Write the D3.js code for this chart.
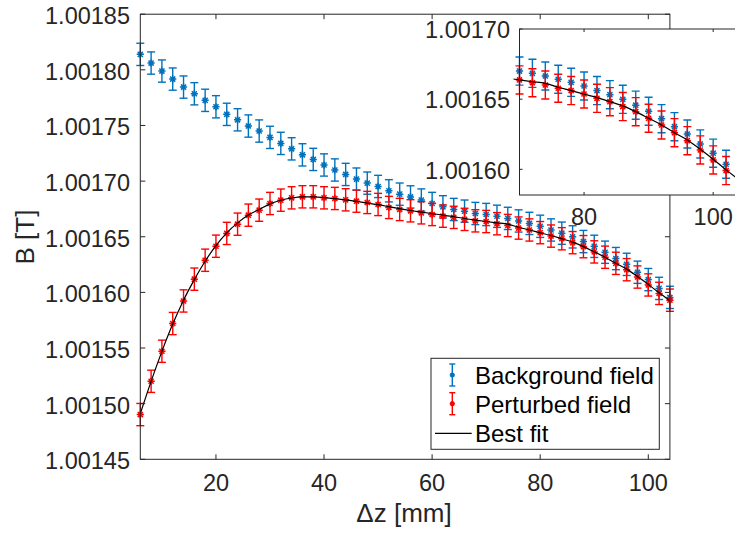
<!DOCTYPE html>
<html>
<head>
<meta charset="utf-8">
<script src="https://cdn.jsdelivr.net/npm/d3@7"></script>
<style>
  html, body { margin: 0; padding: 0; background: #fff; }
  svg { display: block; }
  text { font-family: "Liberation Sans", Arial, Helvetica, sans-serif; fill: #262626; }
</style>
</head>
<body>
<svg id="chart" width="735" height="533"></svg>
<script>
// ---------------- data ----------------
const dz = [6, 8, 10, 12, 14, 16, 18, 20, 22, 24, 26, 28, 30, 32, 34, 36, 38, 40, 42, 44,
            46, 48, 50, 52, 54, 56, 58, 60, 62, 64, 66, 68, 70, 72, 74, 76, 78, 80, 82, 84,
            86, 88, 90, 92, 94, 96, 98, 100, 102, 104];

const backgroundField = [
  1.0018139, 1.0018061, 1.0017989, 1.0017917, 1.0017845, 1.0017785, 1.0017726, 1.0017668, 1.0017600, 1.0017551,
  1.0017495, 1.0017450, 1.0017393, 1.0017339, 1.0017290, 1.0017236, 1.0017195, 1.0017145, 1.0017100, 1.0017060,
  1.0017018, 1.0016982, 1.0016952, 1.0016913, 1.0016883, 1.0016858, 1.0016830, 1.0016799, 1.0016769, 1.0016745,
  1.0016730, 1.0016709, 1.0016700, 1.0016684, 1.0016665, 1.0016642, 1.0016620, 1.0016594, 1.0016561, 1.0016532,
  1.0016499, 1.0016457, 1.0016414, 1.0016361, 1.0016304, 1.0016252, 1.0016181, 1.0016115, 1.0016036, 1.0015955];

const perturbedField = [
  1.0014902, 1.0015201, 1.0015471, 1.0015720, 1.0015923, 1.0016119, 1.0016289, 1.0016415, 1.0016530, 1.0016613,
  1.0016694, 1.0016739, 1.0016799, 1.0016829, 1.0016850, 1.0016859, 1.0016859, 1.0016850, 1.0016844, 1.0016832,
  1.0016820, 1.0016808, 1.0016790, 1.0016763, 1.0016745, 1.0016733, 1.0016715, 1.0016700, 1.0016685, 1.0016674,
  1.0016656, 1.0016643, 1.0016637, 1.0016617, 1.0016601, 1.0016578, 1.0016561, 1.0016537, 1.0016506, 1.0016482,
  1.0016447, 1.0016411, 1.0016364, 1.0016316, 1.0016261, 1.0016204, 1.0016138, 1.0016067, 1.0015991, 1.0015930];

const bestFit = [
  1.0014910, 1.0015200, 1.0015470, 1.0015715, 1.0015930, 1.0016115, 1.0016280, 1.0016420, 1.0016535, 1.0016625,
  1.0016695, 1.0016745, 1.0016795, 1.0016828, 1.0016848, 1.0016858, 1.0016858, 1.0016852, 1.0016843, 1.0016832,
  1.0016818, 1.0016803, 1.0016788, 1.0016770, 1.0016752, 1.0016736, 1.0016722, 1.0016708, 1.0016695, 1.0016680,
  1.0016664, 1.0016650, 1.0016637, 1.0016625, 1.0016613, 1.0016585, 1.0016561, 1.0016535, 1.0016511, 1.0016482,
  1.0016452, 1.0016411, 1.0016364, 1.0016316, 1.0016261, 1.0016209, 1.0016143, 1.0016072, 1.0015996, 1.0015925];

const backgroundErr = 1.0e-5;   // half-length of error bars
const perturbedErr = 1.0e-5;

const mainXTicks = [20, 40, 60, 80, 100];
const mainYTicks = [1.00145, 1.00150, 1.00155, 1.00160, 1.00165, 1.00170, 1.00175, 1.00180, 1.00185];
const insetXTicks = [80, 100];
const insetYTicks = [1.00160, 1.00165, 1.00170];

const seriesNames = ["Background field", "Perturbed field", "Best fit"];
const colors = { bg: "#0072BD", pert: "#FF0000", fit: "#000000" };

// ---------------- drawing ----------------
const svg = d3.select("#chart");
const axisColor = "#262626";

function star(r) {
  const d = r * 0.7071;
  return `M${-r},0L${r},0M0,${-r}L0,${r}M${-d},${-d}L${d},${d}M${-d},${d}L${d},${-d}`;
}

function drawSeries(g, x, y, xs, ys, err, color, capHalf, markR) {
  const data = xs.map((v, i) => ({ x: v, y: ys[i] }));
  const grp = g.append("g");
  const e = grp.selectAll("g.eb").data(data).join("g").attr("class", "eb");
  e.append("line")
    .attr("x1", d => x(d.x)).attr("x2", d => x(d.x))
    .attr("y1", d => y(d.y - err)).attr("y2", d => y(d.y + err))
    .attr("stroke", color).attr("stroke-width", 1.4);
  e.append("line")
    .attr("x1", d => x(d.x) - capHalf).attr("x2", d => x(d.x) + capHalf)
    .attr("y1", d => y(d.y + err)).attr("y2", d => y(d.y + err))
    .attr("stroke", color).attr("stroke-width", 1.4);
  e.append("line")
    .attr("x1", d => x(d.x) - capHalf).attr("x2", d => x(d.x) + capHalf)
    .attr("y1", d => y(d.y - err)).attr("y2", d => y(d.y - err))
    .attr("stroke", color).attr("stroke-width", 1.4);
  e.append("path")
    .attr("d", star(markR))
    .attr("transform", d => `translate(${x(d.x)},${y(d.y)})`)
    .attr("stroke", color).attr("stroke-width", 1.5).attr("fill", "none");
}

function drawFit(g, x, y, xs, ys) {
  const line = d3.line().x(d => x(d[0])).y(d => y(d[1])).curve(d3.curveMonotoneX);
  g.append("path")
    .attr("d", line(xs.map((v, i) => [v, ys[i]])))
    .attr("fill", "none").attr("stroke", colors.fit).attr("stroke-width", 1.2);
}

function drawBox(g, x0, x1, y0, y1, xTicks, yTicks, x, y, tickLen) {
  const box = g.append("g").attr("stroke", axisColor).attr("stroke-width", 1).attr("fill", "none");
  box.append("rect").attr("x", x0).attr("y", y0).attr("width", x1 - x0).attr("height", y1 - y0);
  xTicks.forEach(t => {
    box.append("line").attr("x1", x(t)).attr("x2", x(t)).attr("y1", y1).attr("y2", y1 - tickLen);
    box.append("line").attr("x1", x(t)).attr("x2", x(t)).attr("y1", y0).attr("y2", y0 + tickLen);
  });
  yTicks.forEach(t => {
    box.append("line").attr("x1", x0).attr("x2", x0 + tickLen).attr("y1", y(t)).attr("y2", y(t));
    box.append("line").attr("x1", x1).attr("x2", x1 - tickLen).attr("y1", y(t)).attr("y2", y(t));
  });
}

// ----- main axes -----
const M = { left: 140.3, right: 669.9, top: 14.2, bottom: 459.3 };
const x = d3.scaleLinear().domain([6, 104]).range([M.left, M.right]);
const y = d3.scaleLinear().domain([1.00145, 1.00185]).range([M.bottom, M.top]);

const main = svg.append("g");
main.append("rect").attr("x", M.left).attr("y", M.top)
  .attr("width", M.right - M.left).attr("height", M.bottom - M.top).attr("fill", "#fff");

drawSeries(main, x, y, dz, backgroundField, backgroundErr, colors.bg, 4, 3.6);
drawSeries(main, x, y, dz, perturbedField, perturbedErr, colors.pert, 4, 3.6);
drawFit(main, x, y, dz, bestFit);
drawBox(main, M.left, M.right, M.top, M.bottom, mainXTicks, mainYTicks, x, y, 5);

const fmt5 = d3.format(".5f");
main.selectAll("text.xt").data(mainXTicks).join("text").attr("class", "xt")
  .attr("x", d => x(d)).attr("y", 490.5).attr("text-anchor", "middle")
  .style("font-size", "23.5px").text(d => d);
main.selectAll("text.yt").data(mainYTicks).join("text").attr("class", "yt")
  .attr("x", 130).attr("y", d => y(d) + 10).attr("text-anchor", "end")
  .style("font-size", "23.5px").text(d => fmt5(d));

main.append("text").attr("x", 404).attr("y", 522).attr("text-anchor", "middle")
  .style("font-size", "26px").text("\u0394z [mm]");
main.append("text").attr("transform", "translate(34,237) rotate(-90)")
  .attr("text-anchor", "middle").style("font-size", "26px").text("B [T]");

// ----- legend -----
const L = { x: 431, y: 358.3, w: 228.3, h: 91 };
const leg = svg.append("g");
leg.append("rect").attr("x", L.x).attr("y", L.y).attr("width", L.w).attr("height", L.h)
  .attr("fill", "#fff").attr("stroke", axisColor).attr("stroke-width", 1);
const rowY = [375, 403.7, 433.3];
const legColors = [colors.bg, colors.pert];
[0, 1].forEach(i => {
  const cx = 452.3, cy = rowY[i];
  const gg = leg.append("g").attr("stroke", legColors[i]).attr("stroke-width", 1.4);
  gg.append("line").attr("x1", cx).attr("x2", cx).attr("y1", cy - 11).attr("y2", cy + 11);
  gg.append("line").attr("x1", cx - 3).attr("x2", cx + 3).attr("y1", cy - 11).attr("y2", cy - 11);
  gg.append("line").attr("x1", cx - 3).attr("x2", cx + 3).attr("y1", cy + 11).attr("y2", cy + 11);
  gg.append("path").attr("d", star(2.6)).attr("transform", `translate(${cx},${cy})`)
    .attr("fill", "none").attr("stroke-width", 1.5);
});
leg.append("line").attr("x1", 435).attr("x2", 471.7).attr("y1", rowY[2]).attr("y2", rowY[2])
  .attr("stroke", colors.fit).attr("stroke-width", 1.2);
leg.selectAll("text.lt").data(seriesNames).join("text").attr("class", "lt")
  .attr("x", 475).attr("y", (d, i) => rowY[i] + 9).style("font-size", "24px").attr("fill", "#000")
  .style("fill", "#000").text(d => d);

// ----- inset axes -----
const I = { left: 519.5, right: 739, top: 29, bottom: 195 };
const xi = d3.scaleLinear().domain([70, 104]).range([I.left, I.right]);
const yi = d3.scaleLinear().domain([1.0015817, 1.00170]).range([I.bottom, I.top]);

const inset = svg.append("g");
inset.append("rect").attr("x", I.left).attr("y", I.top)
  .attr("width", I.right - I.left).attr("height", I.bottom - I.top).attr("fill", "#fff");
svg.append("defs").append("clipPath").attr("id", "insetClip")
  .append("rect").attr("x", I.left - 6).attr("y", I.top)
  .attr("width", I.right - I.left + 6).attr("height", I.bottom - I.top);
const insetData = inset.append("g").attr("clip-path", "url(#insetClip)");
drawSeries(insetData, xi, yi, dz, backgroundField, backgroundErr, colors.bg, 4, 3.6);
drawSeries(insetData, xi, yi, dz, perturbedField, perturbedErr, colors.pert, 4, 3.6);
drawFit(insetData, xi, yi, dz, bestFit);
drawBox(inset, I.left, I.right, I.top, I.bottom, insetXTicks, insetYTicks, xi, yi, 3);

inset.selectAll("text.xt").data(insetXTicks).join("text").attr("class", "xt")
  .attr("x", d => xi(d)).attr("y", 225).attr("text-anchor", "middle")
  .style("font-size", "23.5px").text(d => d);
inset.selectAll("text.yt").data(insetYTicks).join("text").attr("class", "yt")
  .attr("x", 510).attr("y", d => yi(d) + 9.3).attr("text-anchor", "end")
  .style("font-size", "23.5px").text(d => fmt5(d));
</script>
</body>
</html>
